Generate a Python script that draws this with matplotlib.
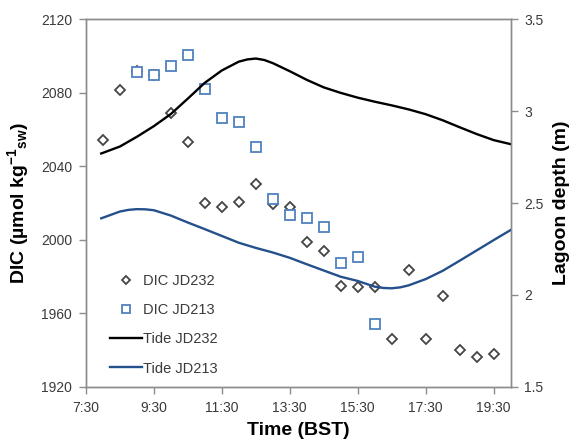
import matplotlib
matplotlib.use("Agg")
import matplotlib.pyplot as plt
import numpy as np
from matplotlib.ticker import FuncFormatter

plt.rcParams['font.family'] = ['Liberation Sans', 'DejaVu Sans']
plt.rcParams['mathtext.fontset'] = 'custom'
plt.rcParams['mathtext.rm'] = 'Liberation Sans:bold'
plt.rcParams['mathtext.it'] = 'Liberation Sans:bold'
plt.rcParams['mathtext.bf'] = 'Liberation Sans:bold'

# DIC samples (hours, BST)
dic232_time = [8.0, 8.5, 9.0, 9.5, 10.0, 10.5, 11.0, 11.5, 12.0, 12.5, 13.0, 13.5,
               14.0, 14.5, 15.0, 15.5, 16.0, 16.5, 17.0, 17.5, 18.0, 18.5, 19.0, 19.5]
dic232 = [2054.5, 2081.5, 2092, 2090, 2069, 2053.3, 2020.2, 2018, 2020.7, 2030.2, 2019.4, 2018,
          1999, 1994, 1975, 1974.1, 1974.4, 1945.8, 1983.5, 1946.1, 1969.4, 1940, 1936, 1937.8]

dic213_time = [9.0, 9.5, 10.0, 10.5, 11.0, 11.5, 12.0, 12.5, 13.0, 13.5, 14.0, 14.5, 15.0, 15.5, 16.0]
dic213 = [2091.3, 2089.8, 2094.9, 2100.6, 2081.9, 2066.4, 2064.1, 2050.6, 2022.3, 2013.5,
          2011.7, 2006.8, 1987.2, 1990.8, 1954.1]

# Lagoon depth (m)
tide232_time = [7.95, 8.5, 9.0, 9.5, 10.0, 10.5, 11.0, 11.5, 12.0, 12.25, 12.5, 12.75, 13.0,
                13.5, 14.0, 14.5, 15.0, 15.5, 16.0, 16.5, 17.0, 17.5, 18.0, 18.5, 19.0, 19.5, 20.0]
tide232 = [2.770, 2.808, 2.861, 2.919, 2.985, 3.069, 3.155, 3.222, 3.270, 3.282, 3.287, 3.279, 3.262,
           3.218, 3.171, 3.130, 3.100, 3.074, 3.052, 3.032, 3.010, 2.984, 2.951, 2.913, 2.876, 2.843, 2.821]

tide213_time = [7.95, 8.5, 8.75, 9.0, 9.25, 9.5, 10.0, 10.5, 11.0, 11.5, 12.0, 12.5, 13.0, 13.5,
                14.0, 14.5, 15.0, 15.5, 16.0, 16.25, 16.5, 16.75, 17.0, 17.5, 18.0, 18.5, 19.0,
                19.5, 20.0]
tide213 = [2.417, 2.454, 2.463, 2.467, 2.466, 2.461, 2.432, 2.394, 2.358, 2.321, 2.284, 2.256, 2.231,
           2.202, 2.167, 2.133, 2.099, 2.076, 2.045, 2.038, 2.036, 2.041, 2.052, 2.086, 2.131, 2.186,
           2.242, 2.298, 2.353]

x_ticks = np.arange(7.5, 20.0, 2.0)

grey = '#8c8c8c'
text_col = '#3a3a3a'

fig = plt.figure(figsize=(5.73, 4.41), dpi=100)
ax = fig.add_axes([0.150, 0.123, 0.741, 0.833])
ax2 = ax.twinx()

ax.plot(dic232_time, dic232, linestyle='none', marker='D', ms=5.6, mfc='white',
        mec='#454545', mew=1.3, label='DIC JD232')
ax.plot(dic213_time, dic213, linestyle='none', marker='s', ms=7.2, mfc='white',
        mec='#4f81bd', mew=1.3, label='DIC JD213')

ax2.plot(tide232_time, tide232, color='black', lw=1.7, label='Tide JD232')
ax2.plot(tide213_time, tide213, color='#24508c', lw=1.7, label='Tide JD213')

ax.set_xlim(7.5, 20.0)
ax.set_ylim(1920, 2120)
ax.set_yticks(np.arange(1920, 2121, 40))
ax2.set_ylim(1.5, 3.5)
ax2.set_yticks([1.5, 2, 2.5, 3, 3.5])
ax2.set_yticklabels(['1.5', '2', '2.5', '3', '3.5'])

ax.set_xticks(x_ticks)
ax.xaxis.set_major_formatter(FuncFormatter(lambda h, p: f"{int(h)}:{int(round((h % 1) * 60)):02d}"))

for a in (ax, ax2):
    for s in a.spines.values():
        s.set_color(grey)
        s.set_linewidth(1.0)
    a.tick_params(direction='out', length=5, width=1, color=grey,
                  labelsize=10, labelcolor=text_col, pad=5)

ax.set_ylabel(r'DIC (µmol kg$^{-1}$$_{\rm sw}$)', fontsize=14, fontweight='bold', va='center')
ax.yaxis.set_label_coords(-0.160, 0.5)
ax2.set_ylabel('Lagoon depth (m)', fontsize=14, fontweight='bold', va='center')
ax2.yaxis.set_label_coords(1.119, 0.5)
ax.set_xlabel('Time (BST)', fontsize=14, fontweight='bold', va='center')
ax.xaxis.set_label_coords(0.5, -0.118)

h1, l1 = ax.get_legend_handles_labels()
h2, l2 = ax2.get_legend_handles_labels()
leg = ax2.legend(h1 + h2, l1 + l2, loc='upper left', bbox_to_anchor=(0.056, 0.308),
                 frameon=False, fontsize=10.5, handlelength=2.2, handletextpad=0.1,
                 labelspacing=1.05, borderpad=0, borderaxespad=0, markerscale=0.8)
for t in leg.get_texts():
    t.set_color(text_col)

fig.savefig('out.png', dpi=100)
